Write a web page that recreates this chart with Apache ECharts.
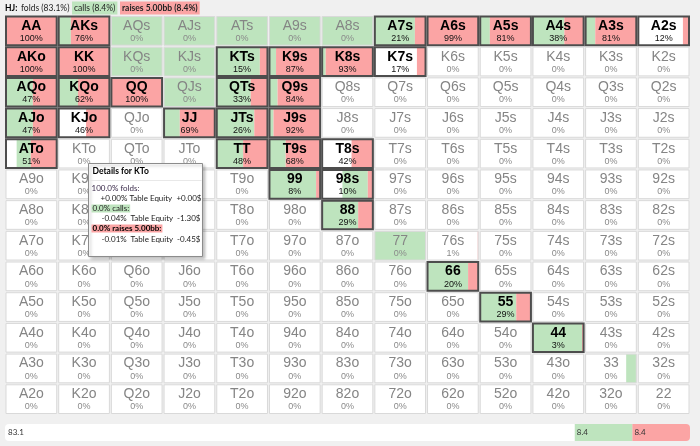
<!DOCTYPE html>
<html>
<head>
<meta charset="utf-8">
<script src="https://cdn.jsdelivr.net/npm/echarts@6.0.0/dist/echarts.min.js"></script>
<style>
  html, body { margin: 0; padding: 0; background: #f0f0f0; }
  #chart { width: 700px; height: 446px; }
</style>
</head>
<body>
<div id="chart"></div>
<script>
// ranks along both axes (row = first card, col = second card)
var ranks = ['A', 'K', 'Q', 'J', 'T', '9', '8', '7', '6', '5', '4', '3', '2'];

// raise % per cell (rows A..2, cols A..2)
var raisePct = [
  [100, 76, 0, 0, 0, 0, 0, 21, 99, 81, 38, 81, 12],
  [100, 100, 0, 0, 15, 87, 93, 17, 0, 0, 0, 0, 0],
  [47, 62, 100, 0, 33, 84, 0, 0, 0, 0, 0, 0, 0],
  [47, 46, 0, 69, 26, 92, 0, 0, 0, 0, 0, 0, 0],
  [51, 0, 0, 0, 48, 68, 42, 0, 0, 0, 0, 0, 0],
  [0, 0, 0, 0, 0, 8, 10, 0, 0, 0, 0, 0, 0],
  [0, 0, 0, 0, 0, 0, 29, 0, 0, 0, 0, 0, 0],
  [0, 0, 0, 0, 0, 0, 0, 0, 1, 0, 0, 0, 0],
  [0, 0, 0, 0, 0, 0, 0, 0, 20, 0, 0, 0, 0],
  [0, 0, 0, 0, 0, 0, 0, 0, 0, 29, 0, 0, 0],
  [0, 0, 0, 0, 0, 0, 0, 0, 0, 0, 3, 0, 0],
  [0, 0, 0, 0, 0, 0, 0, 0, 0, 0, 0, 0, 0],
  [0, 0, 0, 0, 0, 0, 0, 0, 0, 0, 0, 0, 0]
];

// call % per cell
var callPct = [
  [0, 24, 100, 100, 100, 100, 100, 79, 1, 19, 62, 19, 0],
  [0, 0, 100, 100, 85, 13, 7, 0, 0, 0, 0, 0, 0],
  [53, 38, 0, 100, 67, 16, 0, 0, 0, 0, 0, 0, 0],
  [53, 0, 0, 29, 74, 8, 0, 0, 0, 0, 0, 0, 0],
  [28, 0, 0, 0, 52, 32, 0, 0, 0, 0, 0, 0, 0],
  [0, 0, 0, 0, 0, 92, 50, 0, 0, 0, 0, 0, 0],
  [0, 0, 0, 0, 0, 0, 71, 0, 0, 0, 0, 0, 0],
  [0, 0, 0, 0, 0, 0, 0, 100, 0, 0, 0, 0, 0],
  [0, 0, 0, 0, 0, 0, 0, 0, 80, 0, 0, 0, 0],
  [0, 0, 0, 0, 0, 0, 0, 0, 0, 71, 0, 0, 0],
  [0, 0, 0, 0, 0, 0, 0, 0, 0, 0, 97, 0, 0],
  [0, 0, 0, 0, 0, 0, 0, 0, 0, 0, 0, 20, 0],
  [0, 0, 0, 0, 0, 0, 0, 0, 0, 0, 0, 0, 0]
];

// overall frequencies: folds, calls, raises
var actionNames = ['folds', 'calls', 'raises 5.00bb'];
var actionPct = [83.1, 8.4, 8.4];

var GREEN = '#bee4be';
var RED = '#fba4a4';

function handName(r, c) {
  if (r == c) return ranks[r] + ranks[c];
  if (c > r) return ranks[r] + ranks[c] + 's';
  return ranks[c] + ranks[r] + 'o';
}

var cells = [];
for (var r = 0; r < 13; r++) {
  for (var c = 0; c < 13; c++) {
    cells.push([c, r, callPct[r][c], raisePct[r][c], handName(r, c)]);
  }
}

function renderCell(params, api) {
  var col = api.value(0), row = api.value(1);
  var call = api.value(2), raise = api.value(3);
  var fold = 100 - call - raise;
  var name = cells[params.dataIndex][4];
  var ctr = api.coord([col, row]);
  var sz = api.size([1, 1]);
  var x0 = ctr[0] - sz[0] / 2 + 1, y0 = ctr[1] - sz[1] / 2 + 1;
  var w = sz[0] - 2, h = sz[1] - 2;
  var hot = raise >= 2;
  var gw = w * call / 100, rw = w * raise / 100, fw = w * fold / 100;
  var kids = [
    { type: 'rect', shape: { x: x0, y: y0, width: w, height: h }, style: { fill: '#fff' } },
    { type: 'rect', shape: { x: x0 + fw, y: y0, width: gw, height: h }, style: { fill: GREEN } },
    { type: 'rect', shape: { x: x0 + fw + gw, y: y0, width: rw, height: h }, style: { fill: RED } },
    {
      type: 'rect',
      shape: { x: x0, y: y0, width: w, height: h },
      style: hot ? { fill: null, stroke: '#4d4d4d', lineWidth: 2 } : { fill: null, stroke: '#d9d9d9', lineWidth: 1 }
    },
    {
      type: 'text',
      style: {
        text: name, x: ctr[0], y: y0 + 9.5, textAlign: 'center', textVerticalAlign: 'middle',
        font: (hot ? 'bold ' : '') + '14px "Liberation Sans"', fill: hot ? '#000' : '#858585'
      }
    },
    {
      type: 'text',
      style: {
        text: raise + '%', x: ctr[0], y: y0 + 22, textAlign: 'center', textVerticalAlign: 'middle',
        font: '9px "Liberation Sans"', fill: hot ? '#111' : '#8a8a8a'
      }
    }
  ];
  return { type: 'group', children: kids };
}

var chart = echarts.init(document.getElementById('chart'));

var ui = 'Lato';
var tipX = 87, tipY = 163;
var tf = '8px ' + ui;

function txt(x, y, s, font, extra) {
  var st = { text: s, font: font, fill: '#222', textVerticalAlign: 'middle' };
  for (var k in extra) st[k] = extra[k];
  return { type: 'text', x: x, y: y, style: st };
}

var tipKids = [
  { type: 'rect', shape: { x: 0, y: 0, width: 114, height: 93 },
    style: { fill: '#fff', stroke: '#8c8c8c', lineWidth: 1, shadowBlur: 3, shadowOffsetX: 2, shadowOffsetY: 2, shadowColor: 'rgba(0,0,0,0.25)' } },
  { type: 'line', shape: { x1: 1, y1: 17, x2: 113, y2: 17 }, style: { stroke: '#e8e8e8', lineWidth: 1 } },
  txt(4, 7.5, 'Details for KTo', 'bold 8.5px ' + ui, { fill: '#000' }),
  txt(3, 25, '100.0% folds:', tf, { fill: '#3a2a4a' }),
  txt(12, 35, '+0.00%', tf),
  txt(41, 35, 'Table Equity', tf),
  txt(113, 35, '+0.00$', tf, { textAlign: 'right' }),
  txt(3, 45, '0.0% calls:', tf, { backgroundColor: GREEN, padding: [0, 1] }),
  txt(13, 55, '-0.04%', tf),
  txt(42, 55, 'Table Equity', tf),
  txt(112, 55, '-1.30$', tf, { textAlign: 'right' }),
  txt(3, 65, '0.0% raises 5.00bb:', 'bold ' + tf, { fill: '#000', backgroundColor: RED, padding: [0, 1] }),
  txt(13, 76, '-0.01%', tf),
  txt(42, 76, 'Table Equity', tf),
  txt(112, 76, '-0.45$', tf, { textAlign: 'right' })
];
// keep the popup above the grid
tipKids.forEach(function(el, i) { el.z = 100 + i; });

// header line: position + summary values
var hf = '8.5px ' + ui;
var headKids = [
  txt(5, 8, 'HJ:', 'bold ' + hf, { fill: '#000' }),
  txt(21, 8, actionNames[0] + ' (' + actionPct[0] + '%)', hf),
  txt(72, 8, actionNames[1] + ' (' + actionPct[1] + '%)', hf, { backgroundColor: GREEN, padding: [2, 2] }),
  txt(120, 8, actionNames[2] + ' (' + actionPct[2] + '%)', 'bold ' + hf, { backgroundColor: RED, padding: [2, 2] })
];

var option = {
  backgroundColor: '#f0f0f0',
  animation: false,
  grid: [
    { left: 5, top: 15.5, width: 685, height: 399 },
    { left: 5, top: 424, width: 685, height: 17 }
  ],
  xAxis: [
    { type: 'category', gridIndex: 0, data: ranks, show: false },
    { type: 'value', gridIndex: 1, min: 0, max: 99.9, show: false }
  ],
  yAxis: [
    { type: 'category', gridIndex: 0, data: ranks, inverse: true, show: false },
    { type: 'category', gridIndex: 1, data: ['HJ'], show: false }
  ],
  series: [
    {
      type: 'custom', xAxisIndex: 0, yAxisIndex: 0,
      renderItem: renderCell, data: cells
    },
    {
      type: 'bar', xAxisIndex: 1, yAxisIndex: 1, stack: 'tot', barWidth: 17,
      data: [actionPct[0]],
      itemStyle: { color: '#fff', borderRadius: [4, 0, 0, 4] },
      label: { show: true, position: 'insideLeft', distance: 3, fontSize: 8, fontFamily: ui, color: '#333' }
    },
    {
      type: 'bar', xAxisIndex: 1, yAxisIndex: 1, stack: 'tot', barWidth: 17,
      data: [actionPct[1]],
      itemStyle: { color: GREEN },
      label: { show: true, position: 'insideLeft', distance: 2, fontSize: 8, fontFamily: ui, color: '#333' }
    },
    {
      type: 'bar', xAxisIndex: 1, yAxisIndex: 1, stack: 'tot', barWidth: 17,
      data: [actionPct[2]],
      itemStyle: { color: RED, borderRadius: [0, 4, 4, 0] },
      label: { show: true, position: 'insideLeft', distance: 2, fontSize: 8, fontFamily: ui, color: '#333' }
    }
  ],
  graphic: [
    { type: 'group', x: 0, y: 0, children: headKids },
    { type: 'group', left: tipX, top: tipY, z: 100, children: tipKids }
  ]
};

chart.setOption(option);
</script>
</body>
</html>
